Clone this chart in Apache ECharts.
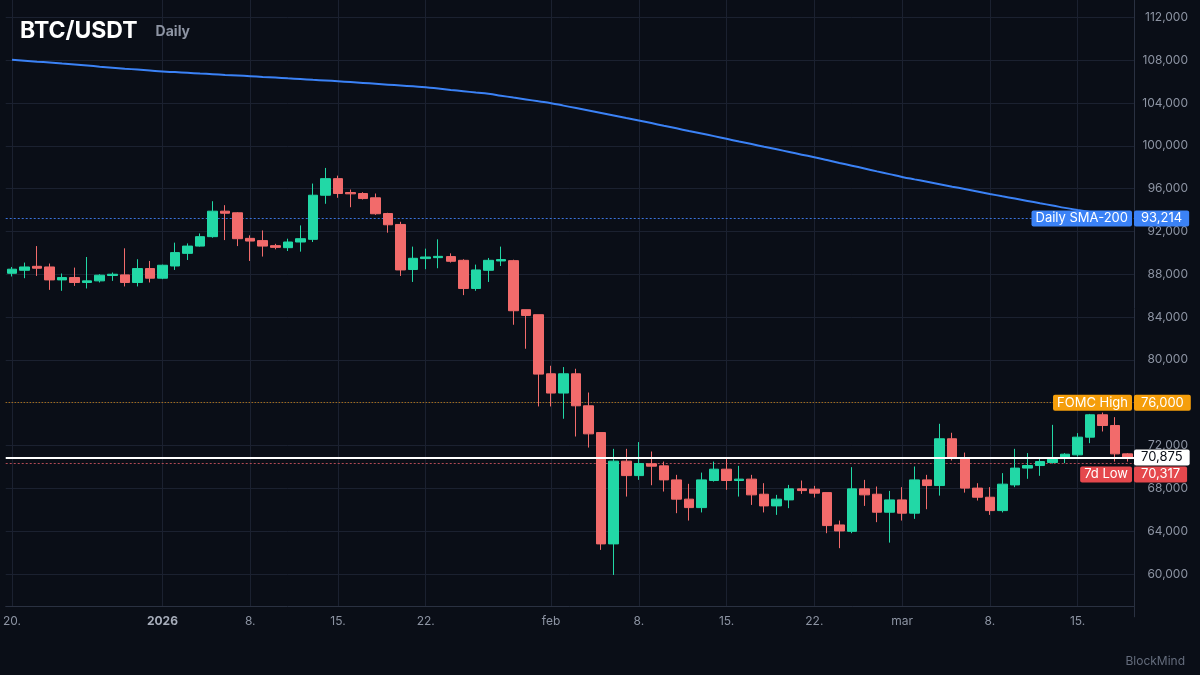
<!DOCTYPE html>
<html><head><meta charset="utf-8">
<script src="https://cdn.jsdelivr.net/npm/echarts@6/dist/echarts.min.js"></script>
<style>html,body{margin:0;padding:0;background:#0a0e17;}#c{width:1200px;height:675px;}</style>
</head><body><div id="c"></div>
<script>
const startDate = '2025-12-20';
const dayCount = 90;
const opens = [88090,88370,88740,88680,87470,87690,87230,87380,87880,87940,
87230,88530,87630,88770,89950,90630,91510,93890,93740,91350,
91140,90670,90480,91010,91260,95380,96930,95630,95540,95140,
93670,92650,88440,89460,89550,89650,89300,86670,88370,89240,
89270,84690,84220,78700,76900,78700,75710,73210,62810,70540,
69190,70300,70100,68790,66990,66200,68730,69790,68730,68860,
67450,66360,66920,67950,67920,67600,64580,63980,67950,67450,
65770,66920,65680,68790,68260,72630,70820,68020,67170,65920,
68320,69890,70130,70410,70910,71130,72780,74870,73870,71220];
const closes = [88470,88680,88560,87470,87690,87230,87380,87910,88000,87230,
88530,87630,88840,90020,90630,91510,93890,93700,91320,91100,
90630,90510,91010,91320,95380,96930,95540,95510,95070,93650,
92620,88400,89490,89610,89670,89210,86670,88400,89300,89370,
84590,84150,78670,76900,78700,75710,73090,62810,70540,69190,
70320,70070,68790,66990,66200,68790,69790,68730,68860,67390,
66360,66990,67950,67790,67550,64520,64020,67950,67390,65770,
66920,65680,68790,68260,72630,70820,68020,67170,65920,68390,
69890,70130,70500,70730,71190,72780,74870,73870,71220,70875];
const lows = [87790,87630,87840,86540,86450,86910,86670,87230,87380,86860,
86860,87230,87540,88400,89330,90580,91410,91190,90630,89240,
89650,90330,90170,90110,91010,94580,95140,94260,94980,93550,
91880,87840,87280,88470,88560,89090,86050,86450,87280,88770,
83280,81040,75650,75650,74500,72840,71810,62250,59910,67230,
68790,68290,67700,65680,64990,65750,68630,67860,67230,66450,
65750,65520,66150,67480,67140,63810,62410,63810,66360,64840,
62930,64990,65150,66050,67320,70600,67600,66860,65520,65750,
68110,68890,69170,70317,70350,70970,72220,73310,70500,70500];
const highs = [88680,89090,90630,89000,88070,88620,89610,88000,88160,90420,
89400,89240,88900,90950,90880,91810,94820,94450,93800,91630,
92090,90840,91320,92560,96470,97930,97210,95910,95660,95540,
93740,92900,90580,90390,91260,89950,89400,88900,89520,90580,
89360,84690,84220,79450,79330,79170,76950,73210,71690,71690,
72320,71440,70500,69260,68420,69470,70500,70730,70100,69260,
68480,67390,68320,68730,68230,67600,64990,69980,68790,68170,
67760,68110,70040,69260,74030,73190,71340,68480,68110,69420,
71690,71290,70820,73930,71290,73160,74950,75080,74650,71290];
const sma200 = [108030,107950,107860,107780,107690,107600,107500,107390,107290,107200,107120,107030,
106940,106880,106820,106750,106690,106620,106560,106500,106430,106370,106300,106230,
106160,106100,106030,105950,105870,105790,105710,105630,105550,105470,105350,105220,
105100,104970,104850,104680,104500,104330,104150,103980,103750,103520,103290,103060,
102830,102590,102360,102120,101870,101630,101380,101140,100900,100650,100400,100160,
99910,99670,99420,99170,98930,98670,98400,98140,97880,97610,97350,97090,
96860,96640,96410,96180,95960,95730,95500,95280,95070,94850,94630,94420,
94200,94000,93810,93610,93410,93214];
const tickDates = ['2025-12-20','2026-01-01','2026-01-08','2026-01-15','2026-01-22','2026-02-01','2026-02-08','2026-02-15','2026-02-22','2026-03-01','2026-03-08','2026-03-15'];
const tickTexts = ['20.','2026','8.','15.','22.','feb','8.','15.','22.','mar','8.','15.'];
const boldTicks = ['2026'];
const levelSMA = 93214, levelFOMC = 76000, levelPrice = 70875, level7dLow = 70317;
const axisMin = 56000, axisMax = 113617, tickStep = 4000;
const plotLow = 57010, plotHigh = 113617;

function buildDates(start, n) {
  const out = [];
  const d0 = new Date(start + 'T00:00:00Z');
  for (let i = 0; i < n; i++) {
    const d = new Date(d0.getTime() + i * 86400000);
    out.push(d.toISOString().slice(0, 10));
  }
  return out;
}
const dates = buildDates(startDate, dayCount);
const ohlc = dates.map((d, i) => [opens[i], closes[i], lows[i], highs[i]]);
const fmt = v => v.toLocaleString('en-US');

const FONT = 'Inter, "Noto Sans", sans-serif';
const GREEN = '#22d8a6', RED = '#f26b6b';
const GRID = '#1b2130', AXIS = '#2a3141', LABEL = '#8d94a3';
const CLEAR = 'rgba(0,0,0,0)';

function valueBox(bg, color, text) {
  return {show: true, position: 'end', distance: 0, formatter: text, backgroundColor: bg, color: color,
    fontFamily: FONT, fontSize: 13, lineHeight: 15, padding: [1, 7, 0, 7], borderRadius: 2};
}
function nameBox(bg, text) {
  return {show: true, position: 'insideEnd', distance: 2, formatter: text, backgroundColor: bg, color: '#ffffff',
    fontFamily: FONT, fontSize: 13, lineHeight: 15, padding: [1, 4, 0, 4], borderRadius: 2};
}

const chart = echarts.init(document.getElementById('c'), null, {renderer: 'canvas'});
chart.setOption({
  backgroundColor: '#0a0e17',
  animation: false,
  textStyle: {fontFamily: FONT},
  title: [
    {left: 20, top: 20, padding: 0, text: '{t|BTC/USDT}{s|Daily}',
      textStyle: {rich: {
        t: {fontFamily: FONT, fontSize: 23, fontWeight: 'bold', color: '#ffffff'},
        s: {fontFamily: FONT, fontSize: 14, color: '#8d94a3', padding: [0, 0, 0, 18]}
      }}},
    {right: 15, bottom: 8, padding: 0, text: 'BlockMind', textStyle: {fontFamily: FONT, fontSize: 12, fontWeight: 'normal', color: '#646c7c'}}
  ],
  grid: {left: 0, right: 66, top: 0, bottom: 58.2, containLabel: false},
  xAxis: {
    type: 'category', data: dates, boundaryGap: true, offset: -10.8,
    axisLine: {show: true, lineStyle: {color: AXIS}},
    axisTick: {show: false},
    splitLine: {show: false},
    axisLabel: {
      interval: (idx, val) => tickDates.indexOf(val) >= 0,
      formatter: val => {
        const t = tickTexts[tickDates.indexOf(val)];
        return boldTicks.indexOf(t) >= 0 ? '{b|' + t + '}' : t;
      },
      color: LABEL, fontSize: 12, fontFamily: FONT, margin: 9,
      rich: {b: {fontWeight: 'bold', fontSize: 12, color: '#a7adba', fontFamily: FONT}}
    }
  },
  yAxis: {
    type: 'value', position: 'right', min: axisMin, max: axisMax, interval: tickStep,
    axisLine: {show: true, lineStyle: {color: AXIS}},
    axisTick: {show: false},
    splitLine: {show: true, showMinLine: false, showMaxLine: false, lineStyle: {color: GRID, width: 1}},
    axisLabel: {show: true, showMinLabel: false, showMaxLabel: false, align: 'right', margin: 54,
      color: LABEL, fontSize: 12, fontFamily: FONT, formatter: v => fmt(v)}
  },
  series: [
    {
      name: 'vgrid', type: 'line', data: [], silent: true, z: 0,
      markLine: {z: 0, silent: true, symbol: 'none', animation: false, label: {show: false},
        lineStyle: {color: GRID, type: 'solid', width: 1},
        data: tickDates.map(d => [{coord: [d, plotLow]}, {coord: [d, plotHigh]}])}
    },
    {
      name: 'Daily SMA-200', type: 'line', data: sma200, z: 1, showSymbol: false, symbol: 'none', smooth: true,
      lineStyle: {color: '#3b82f6', width: 2}, silent: true
    },
    {
      name: 'levels', type: 'line', data: [], silent: true, z: 2,
      markLine: {z: 2, silent: true, symbol: 'none', animation: false,
        data: [
          {yAxis: levelSMA, lineStyle: {color: '#3b72d9', type: [2, 2], width: 1}, label: valueBox('#3b82f6', '#ffffff', fmt(levelSMA))},
          {yAxis: levelSMA, lineStyle: {color: CLEAR, width: 1}, label: nameBox('#3b82f6', 'Daily SMA-200')},
          {yAxis: levelFOMC, lineStyle: {color: '#d98a12', type: [1, 2], width: 1}, label: valueBox('#f59e0b', '#ffffff', fmt(levelFOMC))},
          {yAxis: levelFOMC, lineStyle: {color: CLEAR, width: 1}, label: nameBox('#f59e0b', 'FOMC High')},
          {yAxis: level7dLow, lineStyle: {color: '#b24a55', type: [2, 2], width: 1}, label: Object.assign(valueBox('#e5484d', '#ffffff', fmt(level7dLow)), {offset: [0, 11]})},
          {yAxis: level7dLow, lineStyle: {color: CLEAR, width: 1}, label: Object.assign(nameBox('#e5484d', '7d Low'), {offset: [0, 11]})}
        ]}
    },
    {
      name: 'BTC/USDT', type: 'candlestick', data: ohlc, z: 3, barWidth: 10,
      itemStyle: {color: GREEN, color0: RED, borderColor: GREEN, borderColor0: RED, borderWidth: 1}
    },
    {
      name: 'price', type: 'line', data: [], silent: true, z: 10,
      markLine: {z: 10, silent: true, symbol: 'none', animation: false,
        data: [{yAxis: levelPrice, lineStyle: {color: '#ffffff', type: 'solid', width: 2}, label: valueBox('#ffffff', '#0a0e17', fmt(levelPrice))}]}
    }
  ]
});
</script></body></html>
